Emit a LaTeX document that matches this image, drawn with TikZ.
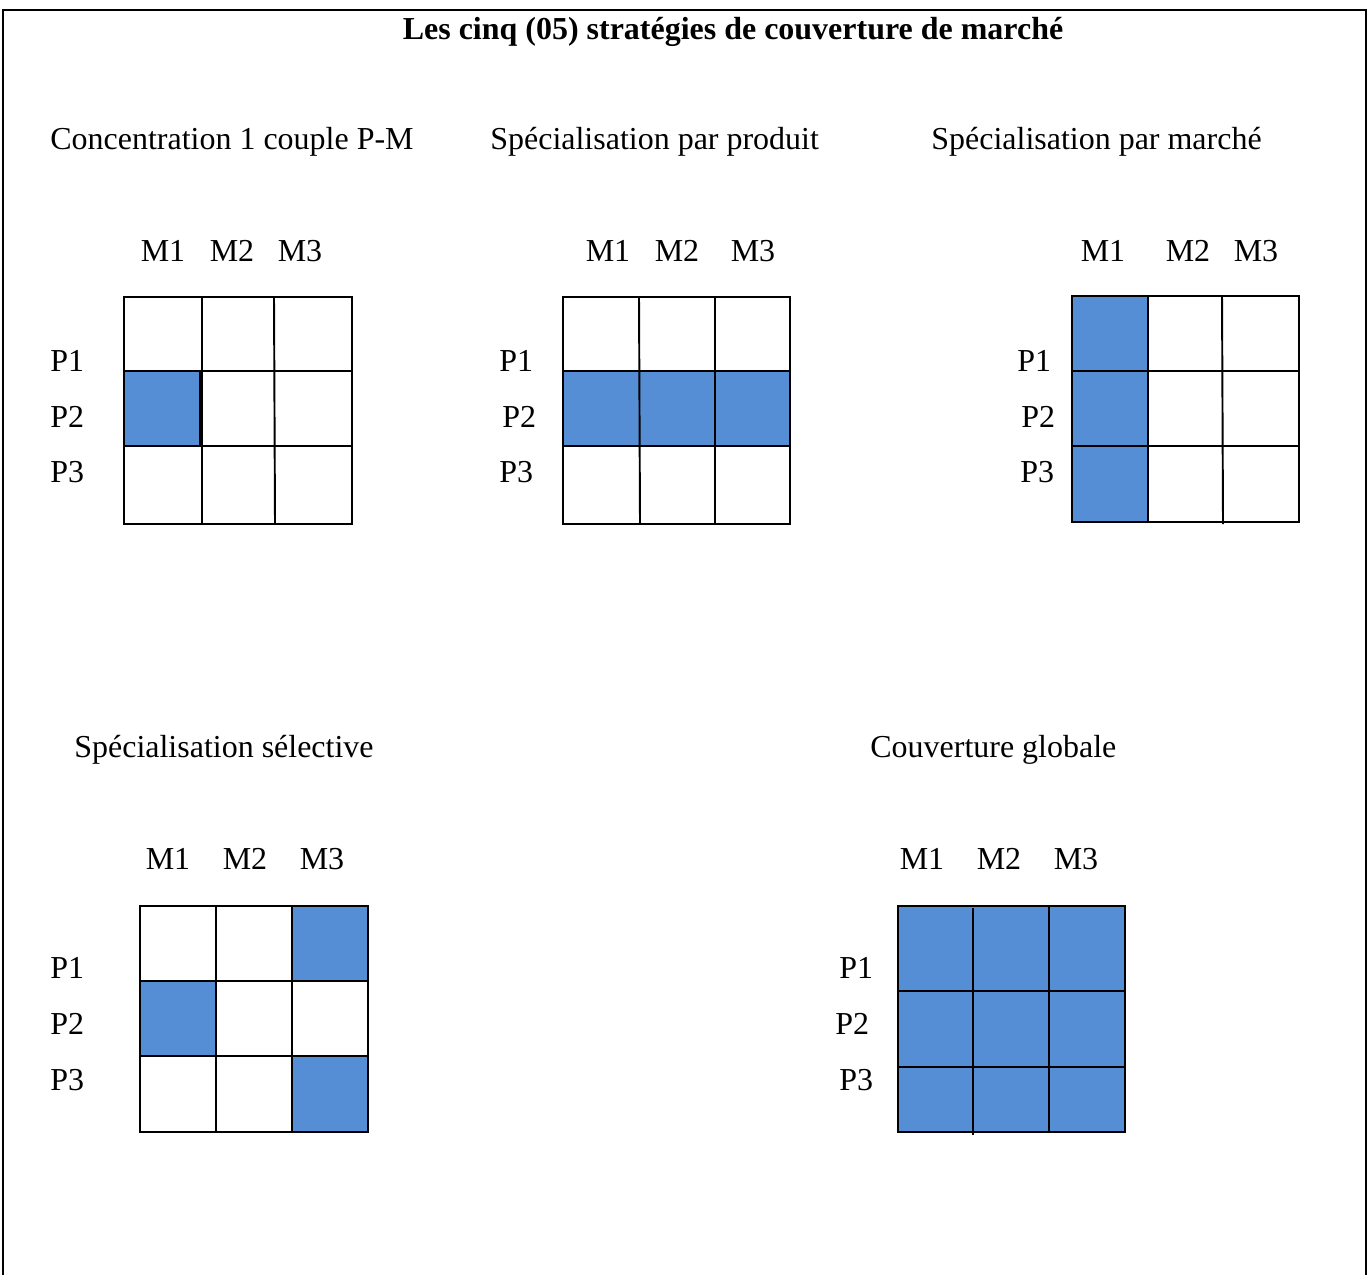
\documentclass[tikz,border=0pt]{standalone}
\usepackage{fontspec}
\setmainfont{Liberation Serif}
\definecolor{cellblue}{RGB}{85,142,213}
\begin{document}
\begin{tikzpicture}[x=0.02cm,y=-0.02cm,
  lbl/.style={font=\fontsize{18.2}{21}\selectfont, inner sep=0pt},
  gridline/.style={line width=1.1pt, black},
  cellfill/.style={fill=cellblue}]
\useasboundingbox (0,0) rectangle (1371,1275);
% frame
\draw[line width=1.2pt] (3,1275) -- (3,10) -- (1366,10) -- (1366,1275);
% title
\node[lbl, font=\fontsize{18.2}{21}\selectfont\bfseries] (title) at (733,32) {Les cinq (05) stratégies de couverture de marché};
% headings
\node[lbl, anchor=west] (h1) at (50,142) {Concentration 1 couple P-M};
\node[lbl, anchor=west] (h2) at (490,142) {Spécialisation par produit};
\node[lbl, anchor=west] (h3) at (931,142) {Spécialisation par marché};
\node[lbl, anchor=west] (h4) at (74,750) {Spécialisation sélective};
\node[lbl, anchor=west] (h5) at (870,750) {Couverture globale};

% ---------- Grid 1
\fill[cellfill] (124,371) rectangle (200,446);
\draw[gridline] (124,297) rectangle (352,524);
\draw[gridline] (202,297) -- (202,524) (274,297) -- (275,524)
  (124,371) -- (352,371) (124,446) -- (352,446) (200,371) -- (200,446);
\node[lbl] (g1m1) at (163,251) {M1};
\node[lbl] (g1m2) at (232,251) {M2};
\node[lbl] (g1m3) at (300,251) {M3};
\node[lbl, anchor=west] (g1p1) at (50,361) {P1};
\node[lbl, anchor=west] (g1p2) at (50,417) {P2};
\node[lbl, anchor=west] (g1p3) at (50,472) {P3};

% ---------- Grid 2
\fill[cellfill] (563,371) rectangle (790,446);
\draw[gridline] (563,297) rectangle (790,524);
\draw[gridline] (639,297) -- (640,524) (715,297) -- (715,524)
  (563,371) -- (790,371) (563,446) -- (790,446);
\node[lbl] (g2m1) at (608,251) {M1};
\node[lbl] (g2m2) at (677,251) {M2};
\node[lbl] (g2m3) at (753,251) {M3};
\node[lbl, anchor=west] (g2p1) at (499,361) {P1};
\node[lbl, anchor=west] (g2p2) at (502,417) {P2};
\node[lbl, anchor=west] (g2p3) at (499,472) {P3};

% ---------- Grid 3
\fill[cellfill] (1072,296) rectangle (1148,522);
\draw[gridline] (1072,296) rectangle (1299,522);
\draw[gridline] (1148,296) -- (1148,522) (1222,296) -- (1223,524)
  (1072,371) -- (1299,371) (1072,446) -- (1299,446);
\node[lbl] (g3m1) at (1103,251) {M1};
\node[lbl] (g3m2) at (1188,251) {M2};
\node[lbl] (g3m3) at (1256,251) {M3};
\node[lbl, anchor=west] (g3p1) at (1017,361) {P1};
\node[lbl, anchor=west] (g3p2) at (1021,417) {P2};
\node[lbl, anchor=west] (g3p3) at (1020,472) {P3};

% ---------- Grid 4
\fill[cellfill] (292,906) rectangle (368,981);
\fill[cellfill] (140,981) rectangle (216,1056);
\fill[cellfill] (292,1056) rectangle (368,1132);
\draw[gridline] (140,906) rectangle (368,1132);
\draw[gridline] (216,906) -- (216,1132) (292,906) -- (292,1132)
  (140,981) -- (368,981) (140,1056) -- (368,1056);
\node[lbl] (g4m1) at (168,859) {M1};
\node[lbl] (g4m2) at (245,859) {M2};
\node[lbl] (g4m3) at (322,859) {M3};
\node[lbl, anchor=west] (g4p1) at (50,968) {P1};
\node[lbl, anchor=west] (g4p2) at (50,1024) {P2};
\node[lbl, anchor=west] (g4p3) at (50,1080) {P3};

% ---------- Grid 5
\fill[cellfill] (898,906) rectangle (1125,1132);
\draw[gridline] (898,906) rectangle (1125,1132);
\draw[gridline] (973,908) -- (973,1135) (1049,906) -- (1049,1132)
  (898,991) -- (1125,991) (898,1067) -- (1125,1067);
\node[lbl] (g5m1) at (922,859) {M1};
\node[lbl] (g5m2) at (999,859) {M2};
\node[lbl] (g5m3) at (1076,859) {M3};
\node[lbl, anchor=west] (g5p1) at (839,968) {P1};
\node[lbl, anchor=west] (g5p2) at (835,1024) {P2};
\node[lbl, anchor=west] (g5p3) at (839,1080) {P3};
\end{tikzpicture}
\end{document}
